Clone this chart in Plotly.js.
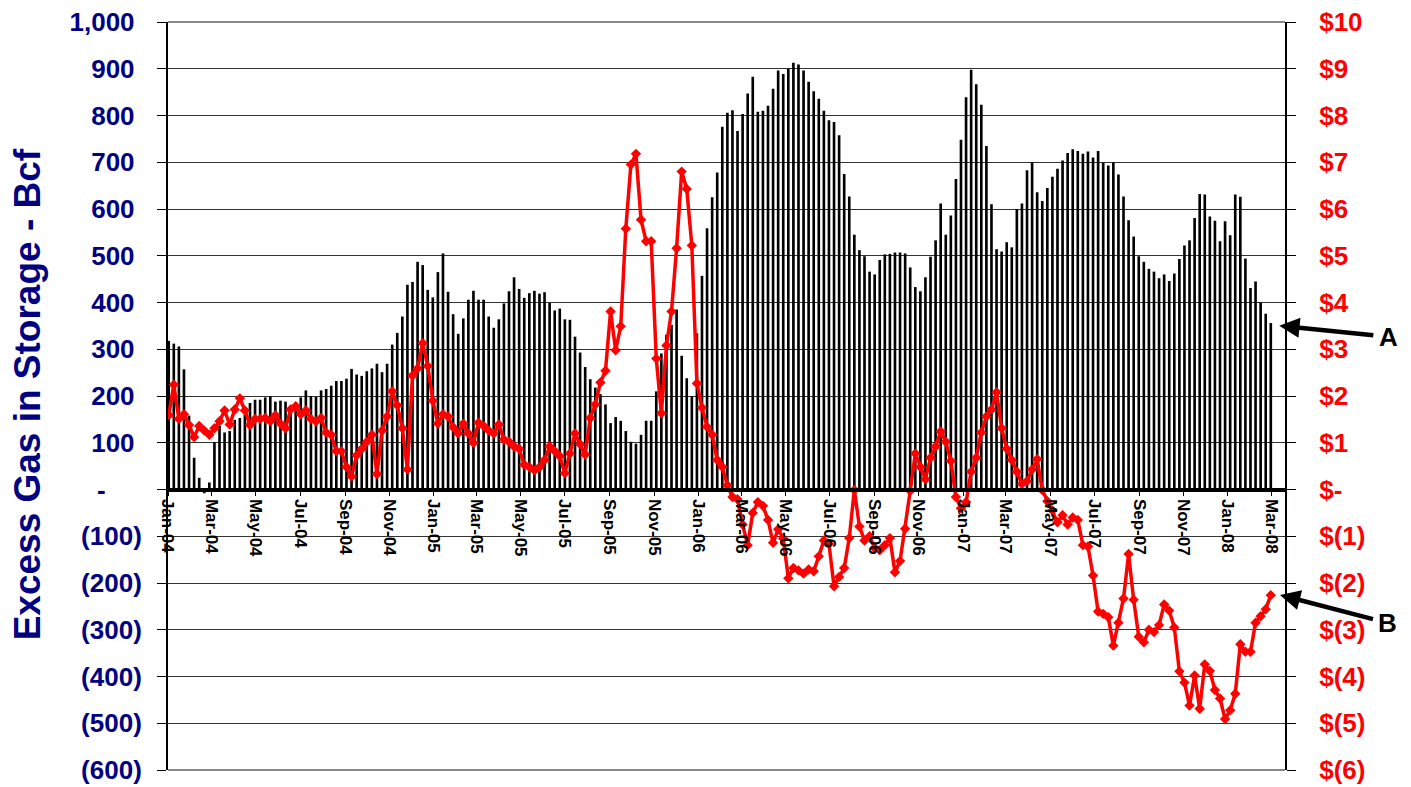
<!DOCTYPE html>
<html>
<head>
<meta charset="utf-8">
<script src="https://cdn.plot.ly/plotly-3.0.1.min.js"></script>
<style>
html,body{margin:0;padding:0;background:#fff;}
#chart{width:1411px;height:787px;}
</style>
</head>
<body>
<div id="chart"></div>
<script>
// Weekly observations, first week ending 2004-01-02
const firstWeek = "2004-01-02";
const weekCount = 218;

// Excess gas in storage (Bcf), weekly, by block
const storage2004a = [318, 312, 306, 257, 158, 68, 25, -8, 15, 101, 136, 122, 125, 149, 153,
  160, 185, 192, 192, 197, 200, 188, 190, 188, 178, 185, 197, 212, 200, 198, 212, 215, 222, 232, 232, 237];
const storage2004b = [258, 246, 243, 253, 259, 269, 251, 269, 310, 335, 370, 438, 444, 487, 480, 427,
  411, 465, 505, 423, 375, 333, 366, 406, 425, 406, 406, 370, 346, 364, 398, 424, 454, 429, 410, 420];
const storage2005 = [425, 419, 422, 399, 383, 387, 364, 363, 327, 293, 262, 236, 218, 204, 182, 142,
  155, 147, 125, 102, 98, 117, 147, 147, 210, 291, 331, 352, 385, 286, 238, 200, 334, 457, 559, 625, 678, 776];
const storage2006 = [806, 811, 767, 803, 847, 883, 808, 810, 821, 857, 896, 889, 900, 913, 909, 896,
  872, 852, 836, 810, 790, 786, 758, 675, 627, 545, 512, 499, 466, 460, 491, 503, 504, 507, 507, 505, 475];
const storage2007a = [433, 424, 454, 498, 533, 612, 545, 586, 664, 748, 839, 898, 867, 823, 735, 610,
  514, 509, 529, 518, 600, 612, 683, 700, 636, 617, 645, 669, 686, 704, 720, 728, 724, 718, 723, 710];
const storage2007b = [724, 699, 693, 700, 674, 627, 576, 541, 499, 487, 472, 466, 452, 460, 446, 462,
  493, 522, 533, 581, 632, 631, 584, 575, 531, 574, 544, 631, 626, 494, 431, 445, 400, 376, 356];

// Price series ($), weekly, by block
const price2004a = [1.59, 2.24, 1.51, 1.61, 1.38, 1.12, 1.36, 1.26, 1.17, 1.31, 1.46, 1.69, 1.39, 1.71,
  1.95, 1.69, 1.38, 1.51, 1.51, 1.53, 1.46, 1.59, 1.41, 1.31, 1.71, 1.78, 1.61, 1.69, 1.51, 1.46, 1.53,
  1.22, 1.17, 0.82, 0.82, 0.48, 0.28, 0.73];
const price2004b = [0.87, 1.02, 1.17, 0.33, 1.26, 1.56, 2.10, 1.80, 1.31, 0.43, 2.44, 2.59, 3.13, 2.64,
  1.90, 1.41, 1.61, 1.56, 1.33, 1.20, 1.41, 1.20, 1.00, 1.43, 1.36, 1.26, 1.20, 1.39, 1.07, 1.02, 0.92,
  0.87, 0.53, 0.48];
const price2005 = [0.41, 0.48, 0.63, 0.92, 0.82, 0.71, 0.35, 0.77, 1.20, 0.97, 0.75, 1.53, 1.82, 2.29,
  2.54, 3.81, 2.98, 3.49, 5.58, 6.95, 7.18, 5.77, 5.31, 5.31, 2.80, 1.63, 3.08, 3.81, 5.16, 6.80, 6.43,
  5.22, 2.27, 1.75, 1.34, 1.17, 0.63, 0.48];
const price2006 = [0.09, -0.16, -0.21, -0.75, -1.19, -0.50, -0.27, -0.35, -0.65, -1.14, -0.85, -1.05,
  -1.90, -1.68, -1.73, -1.80, -1.71, -1.75, -1.43, -1.09, -1.16, -2.07, -1.87, -1.68, -1.04, -0.01,
  -0.79, -1.09, -1.00, -1.25, -1.30, -1.19, -1.04, -1.77, -1.53, -0.84, -0.03];
const price2007a = [0.77, 0.48, 0.22, 0.68, 0.92, 1.24, 1.02, 0.61, -0.16, -0.40, -0.27, 0.38, 0.68,
  1.22, 1.56, 1.71, 2.08, 1.31, 0.87, 0.63, 0.38, 0.12, 0.18, 0.43, 0.65, -0.01, -0.25, -0.45, -0.70,
  -0.55, -0.75, -0.60, -0.65, -1.19, -1.22, -1.84];
const price2007b = [-2.61, -2.66, -2.73, -3.34, -2.85, -2.33, -1.38, -2.36, -3.15, -3.27, -3.00, -3.05,
  -2.90, -2.46, -2.59, -2.95, -3.89, -4.13, -4.62, -3.98, -4.69, -3.74, -3.88, -4.29, -4.47, -4.91,
  -4.72, -4.37, -3.31, -3.47, -3.47, -2.85, -2.71, -2.56, -2.26];

// Axis tick labels
const leftTickVals = [1000, 900, 800, 700, 600, 500, 400, 300, 200, 100, 0, -100, -200, -300, -400, -500, -600];
const leftTickText = ["1,000", "900", "800", "700", "600", "500", "400", "300", "200", "100", "-",
  "(100)", "(200)", "(300)", "(400)", "(500)", "(600)"];
const rightTickVals = [10, 9, 8, 7, 6, 5, 4, 3, 2, 1, 0, -1, -2, -3, -4, -5, -6];
const rightTickText = ["$10", "$9", "$8", "$7", "$6", "$5", "$4", "$3", "$2", "$1", "$-",
  "$(1)", "$(2)", "$(3)", "$(4)", "$(5)", "$(6)"];

const yTitle = "Excess Gas in Storage - Bcf";
const markerLabels = ["A", "B"];

// ---- build ----
const storage = [].concat(storage2004a, storage2004b, storage2005, storage2006, storage2007a, storage2007b);
const price = [].concat(price2004a, price2004b, price2005, price2006, price2007a, price2007b);
const dates = [];
const d0 = new Date(firstWeek + "T00:00:00Z");
for (let i = 0; i < weekCount; i++) {
  const d = new Date(d0.getTime() + i * 7 * 86400000);
  dates.push(d.toISOString().slice(0, 10));
}
const NB = "\u00a0";
const leftText = leftTickText.map(t => {
  if (t === "-") return "-" + NB.repeat(5);
  if (t.startsWith("(")) return t;
  return t + NB;
});

const FONT = "Liberation Sans, Arial, Helvetica, sans-serif";

const traces = [
  {
    type: "bar", x: dates, y: storage, xaxis: "x", yaxis: "y",
    marker: {color: "#000000", line: {width: 0}},
    hoverinfo: "skip"
  },
  {
    type: "scatter", mode: "lines+markers", x: dates, y: price, xaxis: "x", yaxis: "y2",
    line: {color: "#FF0000", width: 3.5},
    marker: {symbol: "diamond", size: 8, color: "#FF0000"},
    hoverinfo: "skip"
  }
];

const layout = {
  width: 1411, height: 787,
  margin: {l: 168, r: 126, t: 22, b: 17, pad: 0},
  paper_bgcolor: "#ffffff", plot_bgcolor: "#ffffff",
  showlegend: false,
  bargap: 0.48,
  font: {family: FONT, color: "#000"},
  xaxis: {
    type: "date",
    range: ["2004-01-01", "2008-03-19 14:00"],
    anchor: "free", position: 0.375,
    showline: true, linecolor: "#000", linewidth: 4,
    ticks: "outside", ticklen: 4, tickcolor: "#000", tickwidth: 1,
    tick0: "2004-01-01", dtick: "M2", tickformat: "%b-%y", tickangle: 90,
    tickfont: {family: FONT, size: 17, color: "#000", weight: "bold"},
    showgrid: false, zeroline: false, fixedrange: true
  },
  yaxis: {
    range: [-600, 1000], anchor: "x", side: "left",
    tickmode: "array", tickvals: leftTickVals, ticktext: leftText,
    tickfont: {family: FONT, size: 26, color: "#000080", weight: "bold"},
    ticks: "outside", ticklen: 9, tickcolor: "#000", tickwidth: 1,
    ticklabelstandoff: 10,
    showline: true, linecolor: "#000", linewidth: 2,
    showgrid: true, gridcolor: "#333", gridwidth: 1,
    zeroline: false, fixedrange: true
  },
  yaxis2: {
    range: [-6, 10], anchor: "x", overlaying: "y", side: "right",
    tickmode: "array", tickvals: rightTickVals, ticktext: rightTickText,
    tickfont: {family: FONT, size: 26, color: "#FF0000", weight: "bold"},
    ticks: "outside", ticklen: 9, tickcolor: "#000", tickwidth: 1,
    ticklabelstandoff: 18,
    showline: true, linecolor: "#000", linewidth: 2,
    showgrid: false, zeroline: false, fixedrange: true
  },
  shapes: [
    {type: "line", xref: "paper", yref: "paper", x0: 0, x1: 1, y0: 1, y1: 1, line: {color: "#888", width: 2}},
    {type: "line", xref: "paper", yref: "paper", x0: 0, x1: 1, y0: 0, y1: 0, line: {color: "#888", width: 2}}
  ],
  annotations: [
    {
      xref: "paper", yref: "paper", x: -0.125, y: 0.5027, xanchor: "center", yanchor: "middle",
      textangle: -90, showarrow: false,
      text: "<b>" + yTitle + "</b>",
      font: {family: FONT, size: 37, color: "#000080"}
    },
    {
      xref: "paper", yref: "paper", x: 0.9949, y: 0.594, ax: 109, ay: 11,
      text: "<b>" + markerLabels[0] + "</b>", showarrow: true,
      arrowhead: 2, arrowsize: 0.9, arrowwidth: 4.5, arrowcolor: "#000", borderpad: 5,
      font: {family: FONT, size: 26, color: "#000"}
    },
    {
      xref: "paper", yref: "paper", x: 0.9955, y: 0.234, ax: 108, ay: 28,
      text: "<b>" + markerLabels[1] + "</b>", showarrow: true,
      arrowhead: 2, arrowsize: 0.9, arrowwidth: 4.5, arrowcolor: "#000", borderpad: 5,
      font: {family: FONT, size: 26, color: "#000"}
    }
  ]
};

Plotly.newPlot("chart", traces, layout, {staticPlot: true, displayModeBar: false});
</script>
</body>
</html>
